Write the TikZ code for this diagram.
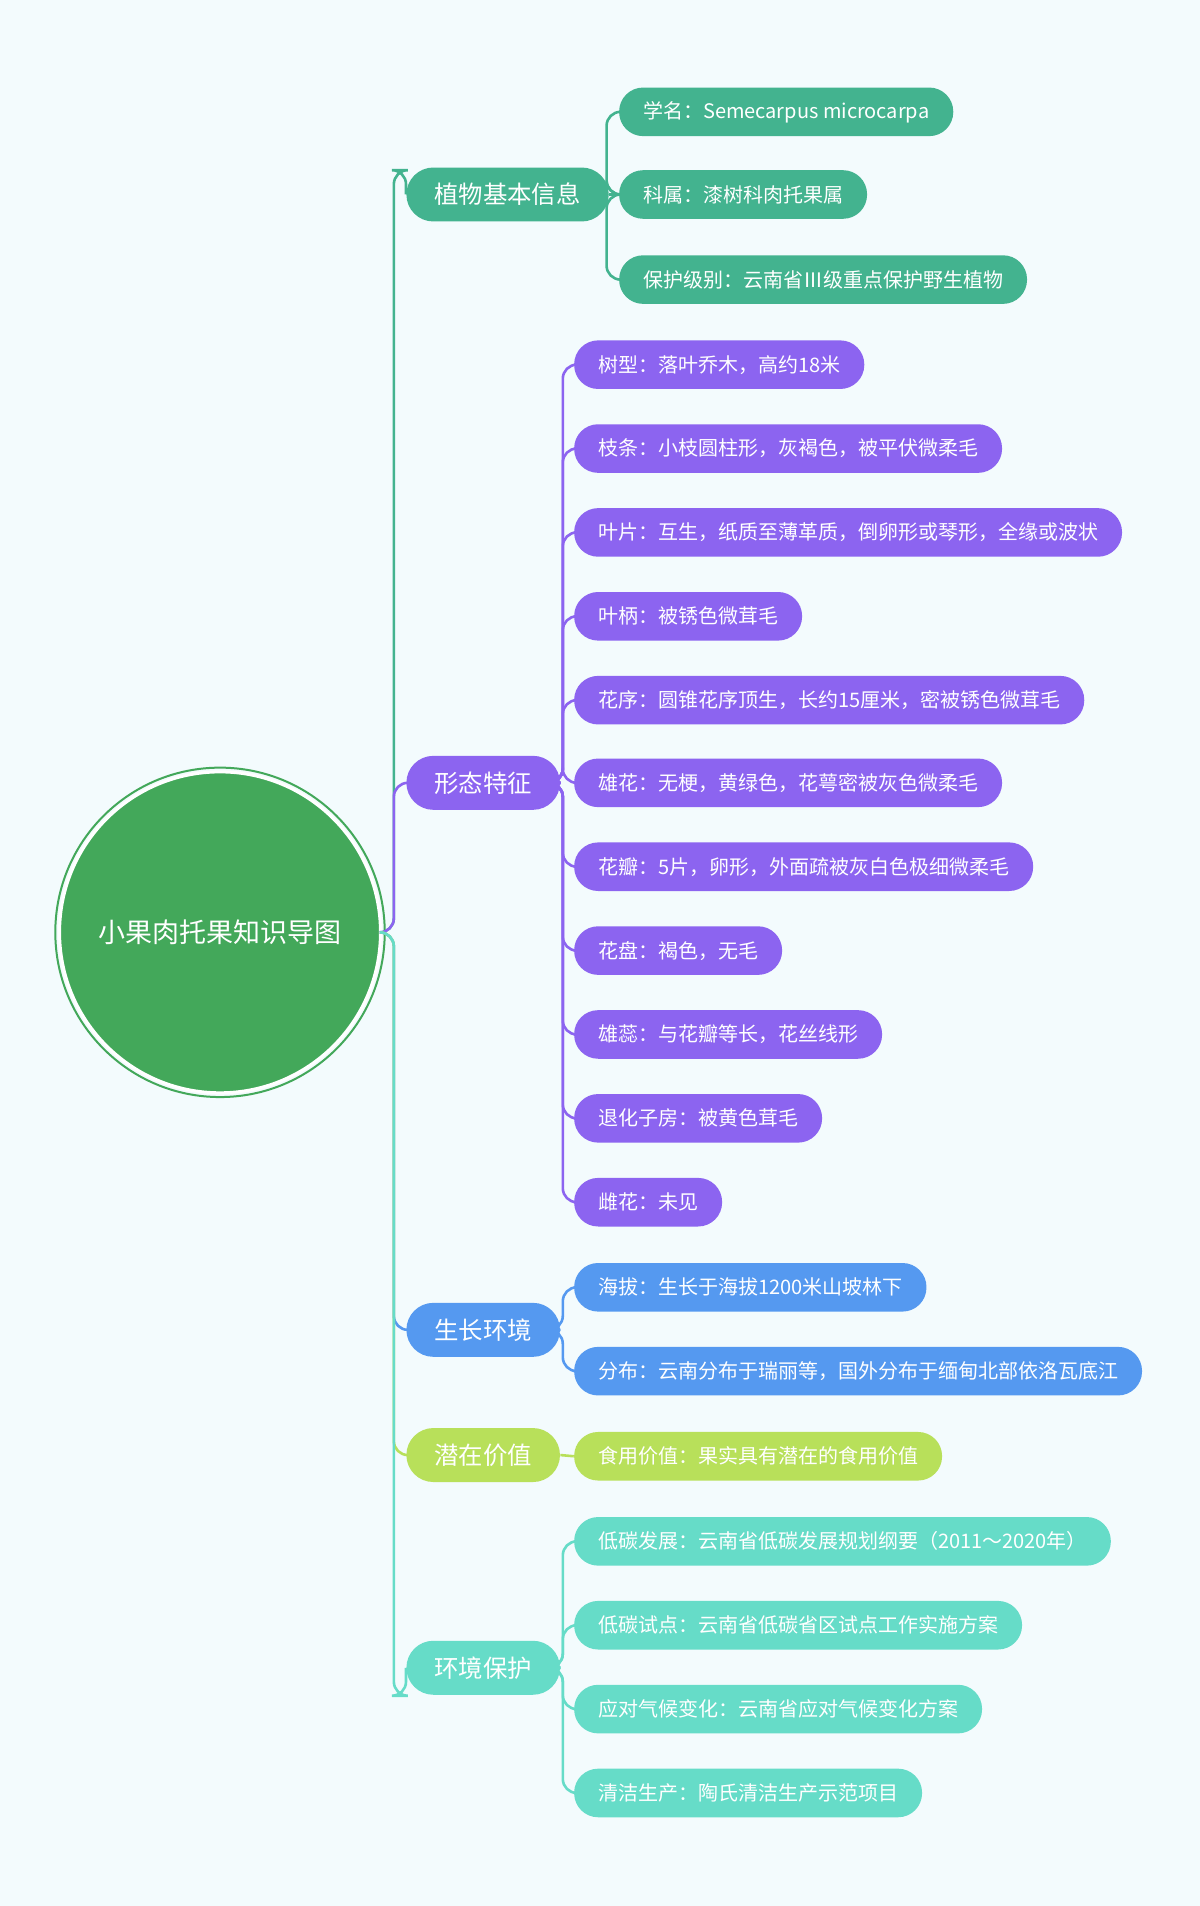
\documentclass[tikz,border=0pt]{standalone}
\usepackage{fontspec}
\setmainfont{Noto Sans CJK SC}
\begin{document}
\begin{tikzpicture}[x=0.6079pt,y=-0.6079pt,
leaf/.style={anchor=west,text=white,font=\fontsize{10pt}{12pt}\selectfont,minimum height=24.3pt,inner xsep=12pt,inner ysep=0pt,rounded corners=12pt},
br/.style={anchor=west,text=white,font=\fontsize{12.2pt}{14pt}\selectfont,minimum height=27pt,inner xsep=14pt,inner ysep=0pt,rounded corners=13.5pt},
con/.style={line width=1.3pt,rounded corners=7pt}]
\definecolor{bg}{HTML}{F3FBFD}
\definecolor{cA}{HTML}{43B38F}
\definecolor{cB}{HTML}{8C64F0}
\definecolor{cC}{HTML}{5599F0}
\definecolor{cD}{HTML}{B8E05A}
\definecolor{cE}{HTML}{66DCC8}
\definecolor{cR}{HTML}{43A85A}
\fill[bg] (0,0) rectangle (987,1568);
\useasboundingbox (0,0) rectangle (987,1568);
\node[circle,fill=cR,draw=white,line width=1.5pt,minimum size=264*0.6079pt,text=white,font=\fontsize{13.5pt}{16pt}\selectfont,double=none] (root) at (181,767) {小果肉托果知识导图};
\draw[cR,line width=1pt] (181,767) circle (135.5);
% branches
\node[br,fill=cA] (b1) at (334,160) {植物基本信息};
\node[br,fill=cB] (b2) at (334,644) {形态特征};
\node[br,fill=cC] (b3) at (334,1094) {生长环境};
\node[br,fill=cD] (b4) at (334,1197) {潜在价值};
\node[br,fill=cE] (b5) at (334,1372) {环境保护};
\draw[con,cA] (root.east) -- (324,767) |- (334,140) -- (b1.west);
\draw[con,cB] (root.east) -- (324,767) |- (b2.west);
\draw[con,cC] (root.east) -- (324,767) |- (b3.west);
\draw[con,cD] (root.east) -- (324,767) |- (b4.west);
\draw[con,cE] (root.east) -- (324,767) |- (334,1395) -- (b5.west);
% group A
\foreach \n/\y/\t in {a1/92/{学名：Semecarpus microcarpa},a2/160/{科属：漆树科肉托果属},a3/230/{保护级别：云南省Ⅲ级重点保护野生植物}}{
  \node[leaf,fill=cA] (\n) at (509,\y) {\t};
  \draw[con,cA] (b1.east) -- (499,160) |- (\n.west);
}
\foreach \n/\y/\t in {p1/300/{树型：落叶乔木，高约18米},p2/369/{枝条：小枝圆柱形，灰褐色，被平伏微柔毛},p3/438/{叶片：互生，纸质至薄革质，倒卵形或琴形，全缘或波状},p4/507/{叶柄：被锈色微茸毛},p5/576/{花序：圆锥花序顶生，长约15厘米，密被锈色微茸毛},p6/644/{雄花：无梗，黄绿色，花萼密被灰色微柔毛},p7/713/{花瓣：5片，卵形，外面疏被灰白色极细微柔毛},p8/782/{花盘：褐色，无毛},p9/851/{雄蕊：与花瓣等长，花丝线形},p10/920/{退化子房：被黄色茸毛},p11/989/{雌花：未见}}{
  \node[leaf,fill=cB] (\n) at (472,\y) {\t};
  \draw[con,cB] (b2.east) -- (463,644) |- (\n.west);
}
\foreach \n/\y/\t in {c1/1059/{海拔：生长于海拔1200米山坡林下},c2/1128/{分布：云南分布于瑞丽等，国外分布于缅甸北部依洛瓦底江}}{
  \node[leaf,fill=cC] (\n) at (472,\y) {\t};
  \draw[con,cC] (b3.east) -- (463,1094) |- (\n.west);
}
\node[leaf,fill=cD] (d1) at (472,1198) {食用价值：果实具有潜在的食用价值};
\draw[con,cD] (b4.east) -- (d1.west);
\foreach \n/\y/\t in {e1/1268/{低碳发展：云南省低碳发展规划纲要（2011～2020年）},e2/1337/{低碳试点：云南省低碳省区试点工作实施方案},e3/1406/{应对气候变化：云南省应对气候变化方案},e4/1475/{清洁生产：陶氏清洁生产示范项目}}{
  \node[leaf,fill=cE] (\n) at (472,\y) {\t};
  \draw[con,cE] (b5.east) -- (463,1372) |- (\n.west);
}
\end{tikzpicture}
\end{document}
